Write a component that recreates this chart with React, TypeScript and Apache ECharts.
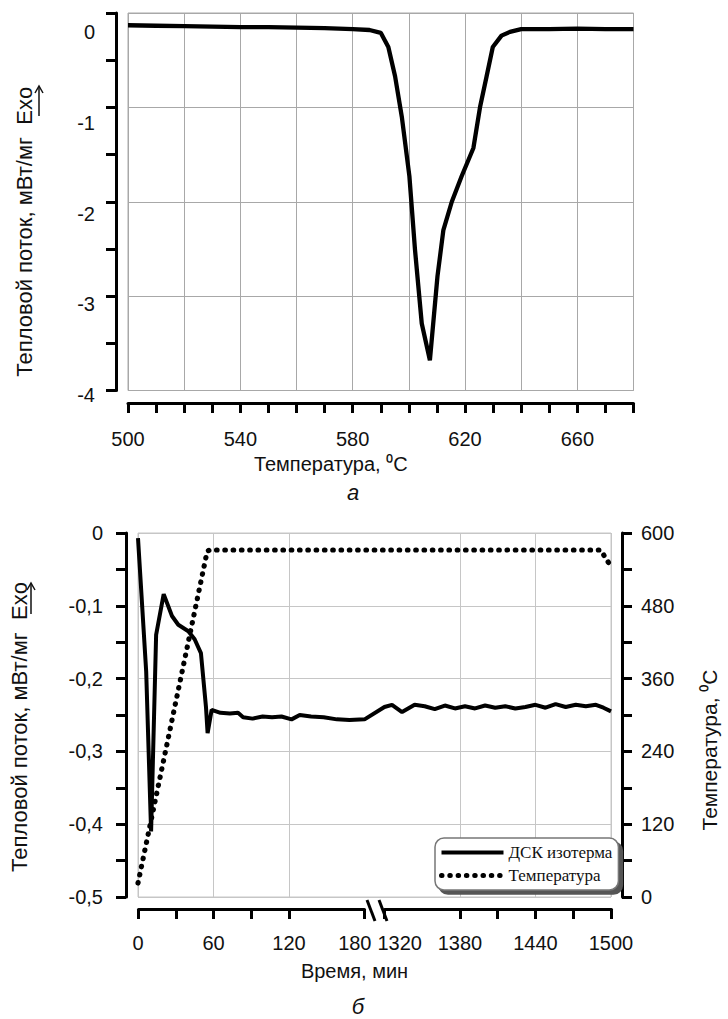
import React, { useEffect, useRef } from 'react';
import * as echarts from 'echarts';

// ---- Chart "а": DSC heating curve ----
const topTemps = [500, 510, 520, 530, 540, 550, 560, 570, 580, 586, 590, 592.7, 595.1, 597.5, 600.2, 602.2, 604.6, 607.5, 610.2, 612.3, 615.3, 618.8, 623, 625.4, 627.7, 629.9, 633, 636, 640, 650, 660, 670, 680];
const topFlow = [-0.13, -0.135, -0.14, -0.145, -0.15, -0.15, -0.155, -0.16, -0.17, -0.18, -0.21, -0.36, -0.67, -1.1, -1.73, -2.51, -3.29, -3.68, -2.79, -2.3, -2.0, -1.73, -1.43, -0.99, -0.67, -0.36, -0.24, -0.2, -0.17, -0.17, -0.165, -0.17, -0.17];
const topXLabels = [500, 540, 580, 620, 660];
const topYLabels = [0, -1, -2, -3, -4];

// ---- Chart "б": DSC isotherm + temperature ----
const dscTime = [0, 6.5, 10.4, 14.4, 20.4, 27, 32, 40, 45, 50, 54, 55.3, 58.5, 65.5, 73, 79.5, 83.5, 91, 99, 106.5, 114, 122, 128.5, 137.5, 147.5, 158, 168, 180,
  1320, 1326, 1334, 1344, 1352, 1360, 1368, 1376, 1384, 1392, 1400, 1408, 1416, 1424, 1432, 1440, 1448, 1456, 1464, 1472, 1480, 1488, 1494, 1500];
const dscFlow = [-0.007, -0.19, -0.41, -0.14, -0.084, -0.114, -0.126, -0.135, -0.146, -0.165, -0.239, -0.275, -0.243, -0.247, -0.248, -0.247, -0.253, -0.255, -0.252, -0.253, -0.252, -0.256, -0.25, -0.252, -0.253, -0.256, -0.257, -0.256,
  -0.239, -0.236, -0.246, -0.236, -0.238, -0.242, -0.237, -0.241, -0.238, -0.241, -0.237, -0.24, -0.238, -0.241, -0.239, -0.236, -0.24, -0.235, -0.239, -0.236, -0.238, -0.236, -0.24, -0.245];
const tempTime = [0, 55, 57, 180, 1320, 1492, 1495, 1499];
const tempValue = [23, 570, 572, 572, 572, 572, 561, 548];
const bottomXLabels = [0, 60, 120, 180, 1320, 1380, 1440, 1500];
const legendNames = ['ДСК изотерма', 'Температура'];

const FONT = 'Liberation Sans, Arial, Helvetica, sans-serif';
const SERIF = 'Liberation Serif, Times New Roman, serif';
const TXT = '#111';

export default function App() {
  const ref = useRef<HTMLDivElement>(null);
  useEffect(() => {
    if (!ref.current) return;
    const chart = echarts.init(ref.current, null, { renderer: 'svg' });
    const axisLine = { show: true, onZero: false, lineStyle: { color: '#000', width: 3 } };
    const tick = { show: true, length: 10, lineStyle: { color: '#000', width: 3 } };
    const minor = { show: true, splitNumber: 2, length: 10, lineStyle: { color: '#000', width: 3 } };
    const lab = { fontSize: 20, color: TXT, fontFamily: FONT };

    const option: any = {
      animation: false,
      textStyle: { fontFamily: FONT },
      title: [
        { text: 'а', left: 348, top: 476, textAlign: 'center', textStyle: { fontStyle: 'italic', fontWeight: 'normal', fontSize: 22, color: TXT, fontFamily: FONT } },
        { text: 'б', left: 353, top: 990, textAlign: 'center', textStyle: { fontStyle: 'italic', fontWeight: 'normal', fontSize: 22, color: TXT, fontFamily: FONT } },
      ],
      grid: [
        { left: 128, top: 13, width: 505.5, height: 377.5, show: true, borderColor: '#a8a8a8', borderWidth: 1 },
        { left: 128, top: 32, width: 505.5, height: 363 },
        { left: 135, top: 533, width: 487.3, height: 364, show: true, borderColor: '#c6c6c6', borderWidth: 1 },
      ],
      xAxis: [
        {
          gridIndex: 0, type: 'value', min: 500, max: 680, interval: 20, position: 'bottom', offset: 12.5,
          axisLine, axisTick: tick, minorTick: minor,
          splitLine: { show: true, lineStyle: { color: '#a8a8a8', width: 1 } },
          axisLabel: { ...lab, margin: 26, formatter: (v: number) => (topXLabels.includes(v) ? String(v) : '') },
          name: 'Температура, ⁰C', nameLocation: 'middle', nameGap: 51,
          nameTextStyle: { fontSize: 20, color: TXT, fontFamily: FONT, padding: [0, 100, 0, 0] },
        },
        { gridIndex: 1, type: 'value', min: 0, max: 1, show: false },
        {
          gridIndex: 2, type: 'value', min: 0, max: 1500, interval: 60, position: 'bottom', offset: 12,
          breaks: [{ start: 180, end: 1320, gap: '4.2%' }],
          breakArea: { show: false },
          breakLabelLayout: { moveOverlap: 'auto' },
          axisLine, axisTick: tick, minorTick: minor,
          splitLine: { show: true, lineStyle: { color: '#c6c6c6', width: 1 } },
          axisLabel: { ...lab, margin: 24, formatter: (v: number) => (bottomXLabels.includes(Math.round(v)) ? String(Math.round(v)) : '') },
          name: 'Время, мин', nameLocation: 'middle', nameGap: 52,
          nameTextStyle: { fontSize: 20, color: TXT, fontFamily: FONT, padding: [0, 40, 0, 0] },
        },
      ],
      yAxis: [
        {
          gridIndex: 0, type: 'value', min: -4, max: 0, interval: 1, position: 'left', offset: 12,
          axisLine, axisTick: tick, minorTick: minor,
          splitLine: { show: true, lineStyle: { color: '#a8a8a8', width: 1 } },
          axisLabel: { show: false },
          name: 'Тепловой поток, мВт/мг  Exo', nameLocation: 'middle', nameGap: 81, nameRotate: 90,
          nameTextStyle: { fontSize: 22, color: TXT, fontFamily: FONT, padding: [0, 60, 0, 0] },
        },
        {
          gridIndex: 1, type: 'value', min: -4, max: 0, interval: 1, position: 'left', offset: 12,
          axisLine: { show: false }, axisTick: { show: false }, splitLine: { show: false },
          axisLabel: { ...lab, margin: 21, formatter: (v: number) => (topYLabels.includes(Math.round(v)) ? String(Math.round(v)) : '') },
        },
        {
          gridIndex: 2, type: 'value', min: -0.5, max: 0, interval: 0.1, position: 'left', offset: 12,
          axisLine, axisTick: tick, minorTick: minor,
          splitLine: { show: true, lineStyle: { color: '#c6c6c6', width: 1 } },
          axisLabel: { ...lab, margin: 23, formatter: (v: number) => (Math.abs(v) < 1e-9 ? '0' : v.toFixed(1).replace('.', ',')) },
          name: 'Тепловой поток, мВт/мг  Exo', nameLocation: 'middle', nameGap: 96, nameRotate: 90,
          nameTextStyle: { fontSize: 22, color: TXT, fontFamily: FONT, padding: [0, 24, 0, 0] },
        },
        {
          gridIndex: 2, type: 'value', min: 0, max: 600, interval: 120, position: 'right', offset: 11,
          axisLine, axisTick: tick, minorTick: minor, splitLine: { show: false },
          axisLabel: { ...lab, margin: 19 },
          name: 'Температура, ⁰C', nameLocation: 'middle', nameGap: 77, nameRotate: 90,
          nameTextStyle: { fontSize: 21, color: TXT, fontFamily: FONT, padding: [0, 70, 0, 0] },
        },
      ],
      legend: {
        show: true, orient: 'vertical', left: 435, top: 838, itemWidth: 62, itemHeight: 12, itemGap: 6,
        padding: [6, 6, 6, 4], backgroundColor: '#fff', borderColor: '#777', borderWidth: 1.5, borderRadius: 9,
        shadowColor: '#555', shadowOffsetX: 4, shadowOffsetY: 4, shadowBlur: 0, selectedMode: false,
        itemStyle: { opacity: 0 },
        textStyle: { fontFamily: SERIF, fontSize: 17, color: TXT },
        data: [
          { name: legendNames[0], lineStyle: { width: 4 } },
          { name: legendNames[1], lineStyle: { width: 5 } },
        ],
      },
      series: [
        {
          type: 'line', xAxisIndex: 0, yAxisIndex: 0, symbol: 'none', silent: true,
          data: topTemps.map((t, i) => [t, topFlow[i]]),
          lineStyle: { color: '#000', width: 4.3 },
        },
        {
          name: legendNames[0], type: 'line', xAxisIndex: 2, yAxisIndex: 2, symbol: 'none', silent: true,
          data: dscTime.map((t, i) => [t, dscFlow[i]]),
          lineStyle: { color: '#000', width: 4 }, itemStyle: { color: '#000' },
        },
        {
          name: legendNames[1], type: 'line', xAxisIndex: 2, yAxisIndex: 3, symbol: 'none', silent: true,
          data: tempTime.map((t, i) => [t, tempValue[i]]),
          lineStyle: { color: '#000', width: 5.2, type: [0.5, 7.8], cap: 'round' }, itemStyle: { color: '#000' },
        },
      ],
      graphic: [
        { type: 'line', shape: { x1: 39, y1: 116, x2: 39, y2: 87 }, style: { stroke: '#111', lineWidth: 1.5 } },
        { type: 'polyline', shape: { points: [[35, 93], [39, 86], [43, 93]] }, style: { stroke: '#111', lineWidth: 1.5, fill: null } },
        { type: 'line', shape: { x1: 31, y1: 614, x2: 31, y2: 584 }, style: { stroke: '#111', lineWidth: 1.5 } },
        { type: 'polyline', shape: { points: [[27, 590], [31, 583], [35, 590]] }, style: { stroke: '#111', lineWidth: 1.5, fill: null } },
        { type: 'line', shape: { x1: 367, y1: 900, x2: 375, y2: 921 }, style: { stroke: '#000', lineWidth: 3 } },
        { type: 'line', shape: { x1: 379, y1: 900, x2: 387, y2: 921 }, style: { stroke: '#000', lineWidth: 3 } },
      ],
    };
    chart.setOption(option);
    return () => chart.dispose();
  }, []);
  return <div ref={ref} style={{ position: 'fixed', left: 0, top: 0, width: 728, height: 1019, background: '#fff' }} />;
}
